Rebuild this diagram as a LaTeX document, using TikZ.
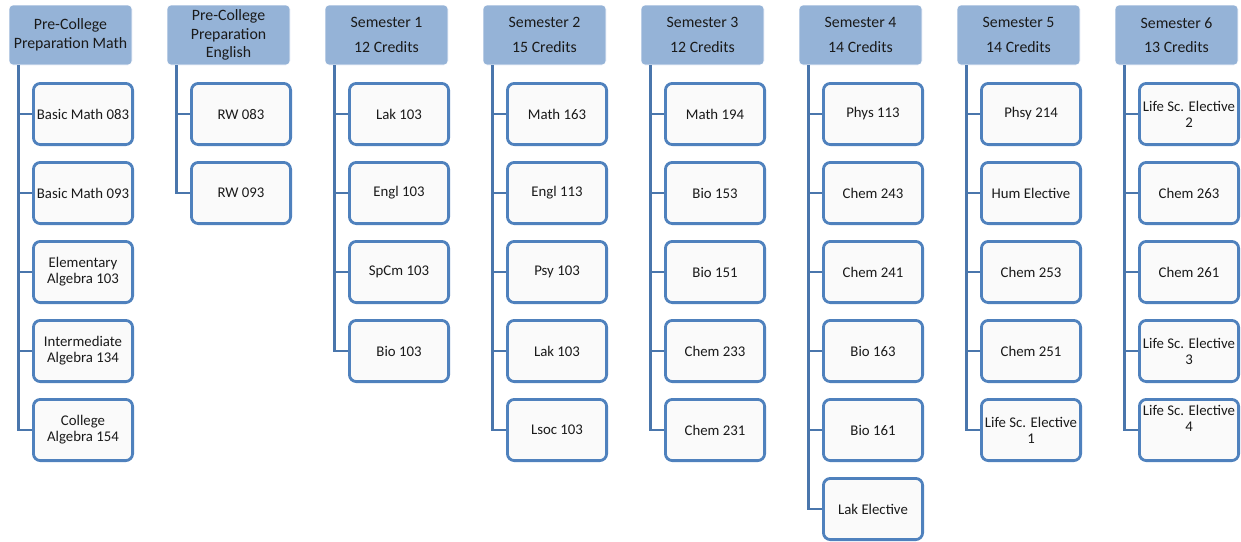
\documentclass[tikz,border=0pt]{standalone}
\usepackage{fontspec}
\setmainfont{Carlito}
\definecolor{hdrblue}{HTML}{95B3D7}
\definecolor{boxblue}{HTML}{4F81BD}
\definecolor{linkblue}{HTML}{4A76AC}
\definecolor{boxfill}{HTML}{FAFAFA}
\definecolor{txt}{HTML}{1A1A1A}
\begin{document}
\begin{tikzpicture}[x=1pt,y=-1pt,
  hdr/.style={draw=white, line width=0.6pt, fill=hdrblue, rounded corners=4pt,
    minimum width=123pt, minimum height=60pt, inner sep=0pt, align=center,
    text=txt, font=\fontsize{15.8}{18.5}\selectfont},
  course/.style={draw=boxblue, line width=2.8pt, fill=boxfill, rounded corners=7pt,
    minimum width=99.2pt, minimum height=61.2pt, inner sep=0pt, align=center,
    text=txt, font=\fontsize{14.8}{16}\selectfont},
  link/.style={draw=linkblue, line width=2.8pt}]
\useasboundingbox (0,0) rectangle (1241,541);

% column headers
\node[hdr] (h0) at (70.5,35) {Pre-College\\Preparation Math};
\node[hdr] (h1) at (228.5,35) {Pre-College\\Preparation\\English};
\node[hdr] (h2) at (386.5,35) {Semester 1\\[6pt]12 Credits};
\node[hdr] (h3) at (544.5,35) {Semester 2\\[6pt]15 Credits};
\node[hdr] (h4) at (702.5,35) {Semester 3\\[6pt]12 Credits};
\node[hdr] (h5) at (860.5,35) {Semester 4\\[6pt]14 Credits};
\node[hdr] (h6) at (1018.5,35) {Semester 5\\[6pt]14 Credits};
\node[hdr] (h7) at (1176.5,35) {Semester 6\\[6pt]13 Credits};

% courses: rows are 79pt apart, columns 158pt apart
\newcommand{\course}[4]{%
  \node[course] (c#1-#2) at (83+158*#1,114+79*#2) {#3};
  \draw[link] ([xshift=10pt]h#1.south west) |- (c#1-#2.west);}

\course{0}{0}{Basic Math 083}{}
\course{0}{1}{Basic Math 093}{}
\course{0}{2}{Elementary\\Algebra 103}{}
\course{0}{3}{Intermediate\\Algebra 134}{}
\course{0}{4}{College\\Algebra 154}{}

\course{1}{0}{RW 083}{}
\course{1}{1}{RW 093}{}

\course{2}{0}{Lak 103}{}
\course{2}{1}{Engl 103}{}
\course{2}{2}{SpCm 103}{}
\course{2}{3}{Bio 103}{}

\course{3}{0}{Math 163}{}
\course{3}{1}{Engl 113}{}
\course{3}{2}{Psy 103}{}
\course{3}{3}{Lak 103}{}
\course{3}{4}{Lsoc 103}{}

\course{4}{0}{Math 194}{}
\course{4}{1}{Bio 153}{}
\course{4}{2}{Bio 151}{}
\course{4}{3}{Chem 233}{}
\course{4}{4}{Chem 231}{}

\course{5}{0}{Phys 113}{}
\course{5}{1}{Chem 243}{}
\course{5}{2}{Chem 241}{}
\course{5}{3}{Bio 163}{}
\course{5}{4}{Bio 161}{}
\course{5}{5}{Lak Elective}{}

\course{6}{0}{Phsy 214}{}
\course{6}{1}{Hum Elective}{}
\course{6}{2}{Chem 253}{}
\course{6}{3}{Chem 251}{}
\course{6}{4}{Life Sc. Elective\\1}{}

\course{7}{0}{Life Sc. Elective\\2}{}
\course{7}{1}{Chem 263}{}
\course{7}{2}{Chem 261}{}
\course{7}{3}{Life Sc. Elective\\3}{}
\course{7}{4}{\raisebox{32pt}{\begin{tabular}{@{}c@{}}Life Sc. Elective\\4\end{tabular}}}{}
\end{tikzpicture}
\end{document}
